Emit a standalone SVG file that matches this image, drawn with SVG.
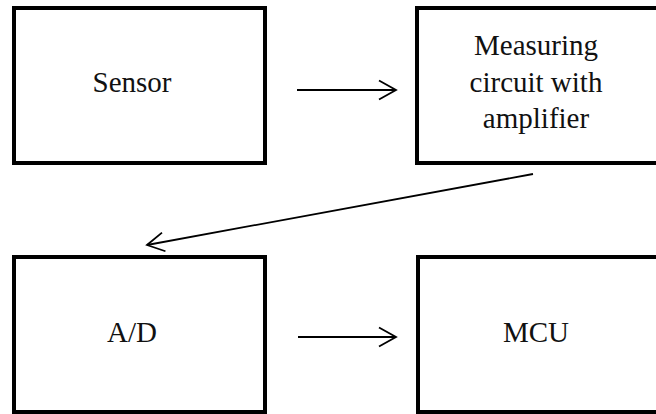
<svg xmlns="http://www.w3.org/2000/svg" width="656" height="414" viewBox="0 0 656 414">
  <style>
    .box { fill: #ffffff; stroke: #000000; stroke-width: 4; }
    .lbl { font-family: "Liberation Serif", "Times New Roman", serif; font-size: 29px; fill: #111111; text-anchor: middle; }
    .conn { fill: none; stroke: #000000; stroke-width: 1.8; }
  </style>
  <defs>
    <marker id="chev" markerUnits="userSpaceOnUse" markerWidth="40" markerHeight="40" viewBox="-20 -20 40 40" refX="0" refY="0" orient="auto">
      <path d="M-17,-9.5 L0,0 L-17,9.5" fill="none" stroke="#000000" stroke-width="1.8"/>
    </marker>
  </defs>
  <rect x="0" y="0" width="656" height="414" fill="#ffffff"/>
  <g id="sensor">
    <rect class="box" x="14" y="8" width="251" height="155"/>
    <text class="lbl" x="132" y="92">Sensor</text>
  </g>
  <g id="measuring">
    <rect class="box" x="417" y="8" width="260" height="155"/>
    <text class="lbl" x="536" y="55">Measuring</text>
    <text class="lbl" x="536" y="92">circuit with</text>
    <text class="lbl" x="536" y="128">amplifier</text>
  </g>
  <g id="ad">
    <rect class="box" x="14" y="257" width="251" height="155"/>
    <text class="lbl" x="132" y="342">A/D</text>
  </g>
  <g id="mcu">
    <rect class="box" x="418" y="257" width="260" height="155"/>
    <text class="lbl" x="536" y="342">MCU</text>
  </g>
  <g id="connectors">
    <line class="conn" x1="297" y1="90" x2="396" y2="90" marker-end="url(#chev)"/>
    <line class="conn" x1="533" y1="174" x2="147" y2="245" marker-end="url(#chev)"/>
    <line class="conn" x1="298" y1="337" x2="396" y2="337" marker-end="url(#chev)"/>
  </g>
</svg>
